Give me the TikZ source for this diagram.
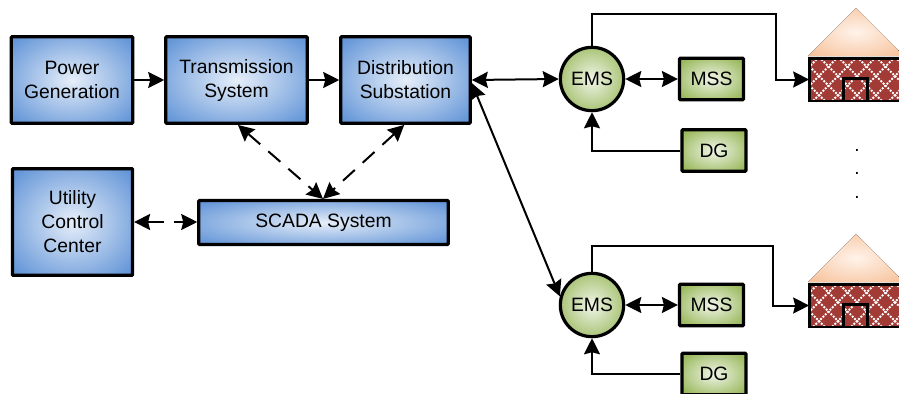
\documentclass[tikz,border=0pt]{standalone}
\usepackage{fontspec}
\setmainfont{Liberation Sans}
\usetikzlibrary{arrows.meta,calc}
\definecolor{blueC}{HTML}{E6EEF9}
\definecolor{blueO}{HTML}{6496D8}
\definecolor{greenC}{HTML}{F0F5E8}
\definecolor{greenO}{HTML}{97B759}
\definecolor{roofC}{HTML}{FFF3EA}
\definecolor{roofO}{HTML}{F6BE95}
\definecolor{brick}{HTML}{A23B36}
\pgfdeclareradialshading{blueglow}{\pgfpoint{0bp}{0bp}}{color(0bp)=(blueC);color(33bp)=(blueO);color(50bp)=(blueO)}
\pgfdeclareradialshading{greenglow}{\pgfpoint{0bp}{0bp}}{color(0bp)=(greenC);color(32bp)=(greenO);color(50bp)=(greenO)}
\pgfdeclareradialshading{roofglow}{\pgfpoint{0bp}{0bp}}{color(0bp)=(roofC);color(36bp)=(roofO);color(50bp)=(roofO)}
\tikzset{
  box/.style={draw=black,line width=2.4pt,rounded corners=0.6pt,inner sep=0pt,align=center,
    font=\fontsize{14.5}{18}\selectfont},
  bluebox/.style={box,shading=blueglow},
  greenbox/.style={box,shading=greenglow},
  emscircle/.style={circle,draw=black,line width=2.4pt,inner sep=0pt,minimum size=47.5pt,shading=greenglow,
    font=\fontsize{14.5}{18}\selectfont},
  wire/.style={draw=black,line width=1.5pt},
  onehead/.style={wire,-{Stealth[length=12pt,width=12pt,inset=1.5pt]}},
  twohead/.style={wire,{Stealth[length=12pt,width=12pt,inset=1.5pt]}-{Stealth[length=12pt,width=12pt,inset=1.5pt]}},
  dashedtwo/.style={twohead,dash pattern=on 12pt off 8pt},
  wall/.style={draw=black,line width=2pt,outer sep=0pt,inner sep=0pt,minimum width=71pt,minimum height=32pt},
  door/.style={draw=black,line width=2pt,inner sep=0pt,minimum width=18pt,minimum height=17pt},
  dotmark/.style={font=\fontsize{14.25}{18}\selectfont,inner sep=0pt}
}
\newcommand{\brickhouse}[2]{%
  \fill[shading=roofglow] (808,#1+48) -- (856,#1) -- (904,#1+48) -- cycle;
  \fill[brick] (809,#1+50) rectangle (904,#1+93);
  \begin{scope}
    \clip (809,#1+50) rectangle (904,#1+93);
    \foreach \k in {-6,...,10} {
      \draw[white,line width=1.5pt,dash pattern=on 1.4pt off 1.1pt] (800+\k*19,#1+49) -- ++(45,45);
      \draw[white,line width=1.5pt,dash pattern=on 1.4pt off 1.1pt] (800+\k*19,#1+49) -- ++(-45,45);
    }
  \end{scope}
  \node[wall] (#2) at (856.5,#1+71.5) {};
  \node[door] (#2door) at (855.5,#1+81.5) {};
}
\begin{document}
\begin{tikzpicture}[x=0.75pt,y=-0.75pt]
\useasboundingbox (0,0) rectangle (899,393);
\clip (0,0) rectangle (899,393);
\node[bluebox,minimum width=91pt,minimum height=65pt] (power) at (72,80) {Power\\Generation};
\node[bluebox,minimum width=106pt,minimum height=65pt] (trans) at (236.5,80) {Transmission\\System};
\node[bluebox,minimum width=97pt,minimum height=65pt] (dist) at (405.5,80) {Distribution\\Substation};
\node[bluebox,minimum width=90pt,minimum height=80pt] (ucc) at (72.5,222) {Utility\\Control\\Center};
\node[bluebox,minimum width=187pt,minimum height=33pt] (scada) at (323.5,222.5) {SCADA System};
\node[emscircle] (ems1) at (592,79) {EMS};
\node[emscircle] (ems2) at (592,305) {EMS};
\node[greenbox,minimum width=48pt,minimum height=31pt] (mss1) at (711.5,79) {MSS};
\node[greenbox,minimum width=48pt,minimum height=31pt] (dg1) at (714,150.5) {DG};
\node[greenbox,minimum width=48pt,minimum height=31pt] (mss2) at (711.5,305) {MSS};
\node[greenbox,minimum width=48pt,minimum height=31pt] (dg2) at (714,374) {DG};
\brickhouse{8}{house1}
\brickhouse{234}{house2}
\node[dotmark] (d1) at (857,150) {.};
\node[dotmark] (d2) at (857,173) {.};
\node[dotmark] (d3) at (857,197) {.};
\draw[onehead] (power.east) -- (trans.west);
\draw[onehead] (trans.east) -- (dist.west);
\coordinate (tUp) at ($(trans.south west)!0.51!(trans.south east)$);
\coordinate (dUp) at ($(dist.south west)!0.49!(dist.south east)$);
\coordinate (sTop) at ($(scada.north)+(-0.5,0)$);
\draw[dashedtwo] (tUp) -- (sTop);
\draw[dashedtwo] (dUp) -- (sTop);
\coordinate (uEast) at (ucc.east);
\draw[dashedtwo] (uEast) -- (uEast-|scada.west);
\draw[twohead] (dist.east) -- (ems1.west);
\coordinate (dOut) at ($(dist.east)+(0,3)$);
\draw[twohead] (dOut) -- (ems2.165);
\draw[twohead] (ems1.east) -- (mss1.west);
\draw[twohead] (ems2.east) -- (mss2.west);
\draw[onehead] (dg1.west) -| (ems1.south);
\draw[onehead] (dg2.west) -| (ems2.south);
\draw[onehead] (ems1.north) |- (776,14) |- (house1.west);
\draw[onehead] (ems2.north) |- (773,246) |- (house2.west);
\end{tikzpicture}
\end{document}
